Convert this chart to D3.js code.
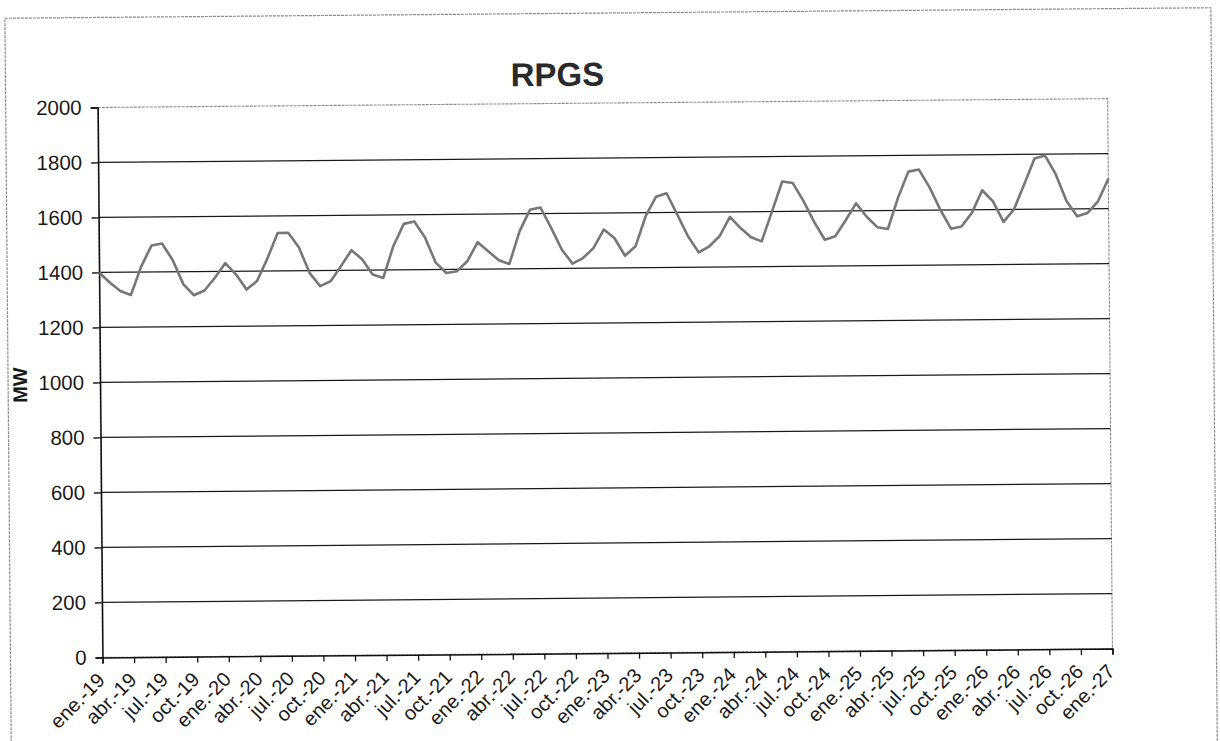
<!DOCTYPE html>
<html>
<head>
<meta charset="utf-8">
<script src="https://cdn.jsdelivr.net/npm/d3@7/dist/d3.min.js"></script>
<style>
  html, body { margin: 0; padding: 0; background: #fff; }
  svg { display: block; }
  text { font-family: "Liberation Sans", Arial, sans-serif; }
</style>
</head>
<body>
<svg id="chart" width="1220" height="741"></svg>
<script>
// ---- data ----
const title = "RPGS";
const yTitle = "MW";
const monthNames = ["ene.","feb.","mar.","abr.","may.","jun.","jul.","ago.","sep.","oct.","nov.","dic."];
const years = ["19","20","21","22","23","24","25","26","27"];
const tickLabels = [
  "ene.-19","abr.-19","jul.-19","oct.-19","ene.-20","abr.-20","jul.-20","oct.-20",
  "ene.-21","abr.-21","jul.-21","oct.-21","ene.-22","abr.-22","jul.-22","oct.-22",
  "ene.-23","abr.-23","jul.-23","oct.-23","ene.-24","abr.-24","jul.-24","oct.-24",
  "ene.-25","abr.-25","jul.-25","oct.-25","ene.-26","abr.-26","jul.-26","oct.-26","ene.-27"
];
const yTicks = [0,200,400,600,800,1000,1200,1400,1600,1800,2000];
const values = [
  1400,1363,1332,1317,1420,1496,1503,1443,1354,1314,1331,1377,
  1430,1389,1333,1364,1445,1538,1538,1485,1392,1343,1361,1416,
  1473,1440,1384,1371,1488,1567,1575,1517,1425,1387,1393,1429,
  1498,1465,1432,1418,1537,1614,1622,1548,1468,1417,1437,1473,
  1540,1509,1444,1478,1588,1658,1670,1592,1513,1454,1475,1512,
  1582,1541,1507,1492,1600,1709,1703,1638,1561,1496,1508,1566,
  1627,1578,1540,1533,1647,1741,1748,1683,1602,1532,1540,1589,
  1671,1631,1555,1600,1691,1785,1795,1727,1629,1573,1585,1627,
  1709
];

// categories: monthly from ene.-19 to ene.-27
const categories = [];
years.forEach(yr => monthNames.forEach(m => categories.push(m + "-" + yr)));
categories.length = values.length;

// ---- layout ----
const W = 1220, H = 741;
const pLeft = 100, pRight = 1110, pTop = 103, pBottom = 653;

const svg = d3.select("#chart");
svg.append("rect").attr("width", W).attr("height", H).attr("fill", "#fff");

const g = svg.append("g").attr("transform", "rotate(-0.5,610,370)");

// outer chart border
g.append("rect")
  .attr("x", 8).attr("y", 13).attr("width", 1206).attr("height", 760)
  .attr("fill", "none").attr("stroke", "#8a8a8a").attr("stroke-width", 1.2)
  .attr("stroke-dasharray", "3,1");

const x = d3.scalePoint().domain(categories).range([pLeft, pRight]);
const y = d3.scaleLinear().domain([0, 2000]).range([pBottom, pTop]);

// plot area border (top / right dotted)
g.append("rect")
  .attr("x", pLeft).attr("y", pTop).attr("width", pRight - pLeft).attr("height", pBottom - pTop)
  .attr("fill", "none").attr("stroke", "#8a8a8a").attr("stroke-width", 1.1)
  .attr("stroke-dasharray", "3,1");

// gridlines
g.append("g").selectAll("line")
  .data(yTicks.filter(v => v > 0 && v < 2000))
  .join("line")
  .attr("x1", pLeft).attr("x2", pRight)
  .attr("y1", d => y(d)).attr("y2", d => y(d))
  .attr("stroke", "#1a1a1a").attr("stroke-width", 1.3);

// y axis
const yAxis = d3.axisLeft(y).tickValues(yTicks).tickSize(7).tickPadding(9).tickFormat(d3.format("d"));
const ya = g.append("g").attr("transform", `translate(${pLeft},0)`).call(yAxis);
ya.select(".domain").attr("stroke", "#111").attr("stroke-width", 1.5);
ya.selectAll(".tick line").attr("stroke", "#111").attr("stroke-width", 1.3);
ya.selectAll(".tick text").attr("font-size", 20.5).attr("fill", "#1a1a1a");

// x axis
const tickCats = categories.filter((c, i) => i % 3 === 0);
const xAxis = d3.axisBottom(x).tickValues(tickCats).tickSize(6).tickFormat((d, i) => tickLabels[i]);
const xa = g.append("g").attr("transform", `translate(0,${pBottom})`).call(xAxis);
xa.select(".domain").attr("stroke", "#111").attr("stroke-width", 1.5);
xa.selectAll(".tick line").attr("stroke", "#111").attr("stroke-width", 1.3);
xa.selectAll(".tick text")
  .attr("font-size", 20).attr("fill", "#1a1a1a")
  .attr("text-anchor", "end")
  .attr("y", 0).attr("dy", "0.35em")
  .attr("transform", "translate(-2,19) rotate(-45)");

// series line
const line = d3.line().x((d, i) => x(categories[i])).y(d => y(d));
g.append("path")
  .datum(values)
  .attr("d", line)
  .attr("fill", "none")
  .attr("stroke", "#777")
  .attr("stroke-width", 2.6)
  .attr("stroke-linejoin", "round");

// title
g.append("text")
  .attr("x", 560).attr("y", 85.5)
  .attr("text-anchor", "middle")
  .attr("font-size", 33).attr("font-weight", "bold").attr("fill", "#2a2a2a")
  .text(title);

// y axis title
g.append("text")
  .attr("transform", "translate(20,380) rotate(-90)")
  .attr("text-anchor", "middle").attr("dy", "0.35em")
  .attr("font-size", 20).attr("font-weight", "bold").attr("fill", "#1a1a1a")
  .text(yTitle);
</script>
</body>
</html>
